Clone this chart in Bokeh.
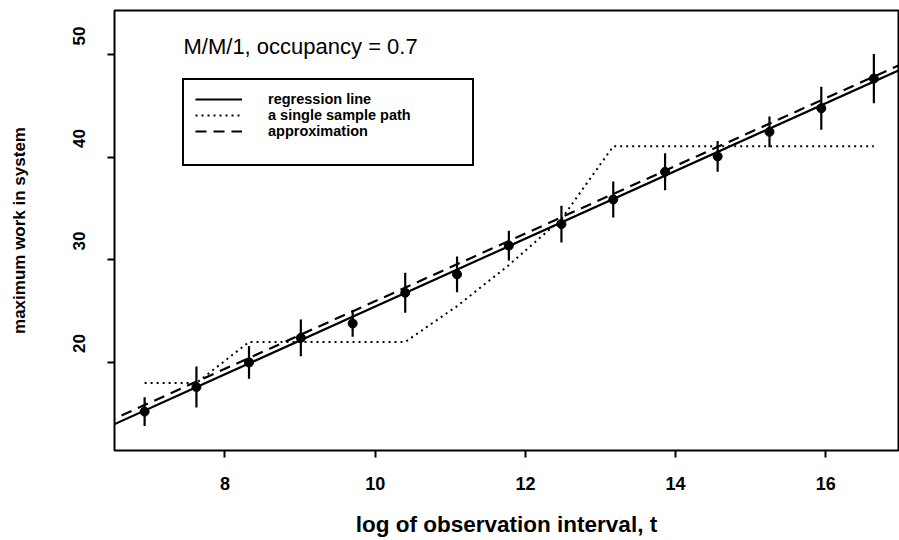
import numpy as np
from bokeh.plotting import figure
from bokeh.models import (Range1d, FixedTicker, Label, Legend, LegendItem, ColumnDataSource,
                          LinearAxis)
from bokeh.embed import file_html
from bokeh.resources import INLINE

# ---- data ----
x_log = [6.93, 7.62, 8.32, 9.01, 9.70, 10.40, 11.09, 11.78, 12.48, 13.17, 13.86, 14.56, 15.25, 15.94, 16.64]
y_mean = [15.2, 17.6, 20.0, 22.4, 23.8, 26.8, 28.6, 31.4, 33.5, 35.9, 38.6, 40.1, 42.5, 44.8, 47.7]
y_err = [1.4, 2.0, 1.6, 1.8, 1.3, 1.95, 1.75, 1.45, 1.8, 1.75, 1.8, 1.5, 1.5, 2.1, 2.4]
path_y = [18.0, 18.0, 22.0, 22.0, 22.0, 22.0, 25.5, 29.5, 34.0, 41.1, 41.1, 41.1, 41.1, 41.1, 41.1]
reg_intercept, reg_slope = -7.6, 3.306
approx_intercept, approx_slope = -7.02, 3.30
x_ticks = [8, 10, 12, 14, 16]
y_ticks = [20, 30, 40, 50]
title_text = "M/M/1, occupancy = 0.7"
legend_labels = ["regression line", "a single sample path", "approximation"]
xlabel_text = "log of observation interval, t"
ylabel_text = "maximum work in system"

FONT = "Liberation Sans"

x0, x1 = 6.529, 16.968
y0, y1 = 11.41, 54.34
label_shift = 1.85  # y tick labels sit a little above their ticks in the reference

p = figure(width=899, height=540, output_backend="svg", toolbar_location=None,
           x_range=Range1d(x0, x1), y_range=Range1d(y0, y1),
           min_border_left=114, min_border_right=1, min_border_top=10, min_border_bottom=90)
p.background_fill_color = "white"
p.border_fill_color = "white"
p.outline_line_color = "black"
p.outline_line_width = 2
p.outline_line_alpha = 1.0
p.xgrid.visible = False
p.ygrid.visible = False
p.extra_y_ranges = {"lab": Range1d(y0 - label_shift, y1 - label_shift)}

# axes
p.xaxis.ticker = FixedTicker(ticks=x_ticks)
p.yaxis.ticker = FixedTicker(ticks=y_ticks)
for ax in (p.xaxis, p.yaxis):
    ax.axis_line_color = None
    ax.major_tick_line_color = "black"
    ax.major_tick_line_width = 2
    ax.major_tick_in = 0
    ax.major_tick_out = 7
    ax.minor_tick_line_color = None
p.xaxis.major_label_text_font = FONT
p.xaxis.major_label_text_font_size = "18px"
p.xaxis.major_label_text_font_style = "bold"
p.xaxis.major_label_text_color = "black"
p.xaxis.major_label_standoff = 19
p.xaxis.axis_label = xlabel_text
p.xaxis.axis_label_text_font = FONT
p.xaxis.axis_label_text_font_size = "22.5px"
p.xaxis.axis_label_text_font_style = "bold"
p.xaxis.axis_label_text_color = "black"
p.xaxis.axis_label_standoff = 19
# tick marks only on the inner left axis; its labels are drawn by the shifted axis below
p.yaxis.major_label_text_font_size = "1px"
p.yaxis.major_label_text_color = None
p.yaxis.major_label_standoff = 0

ylab_axis = LinearAxis(y_range_name="lab", ticker=FixedTicker(ticks=y_ticks),
                       axis_line_color=None, major_tick_line_color=None,
                       minor_tick_line_color=None, major_tick_in=0, major_tick_out=0,
                       major_label_orientation="vertical", major_label_standoff=22,
                       major_label_text_font=FONT, major_label_text_font_size="17px",
                       major_label_text_font_style="bold", major_label_text_color="black",
                       axis_label=ylabel_text, axis_label_standoff=42,
                       axis_label_text_font=FONT, axis_label_text_font_size="17px",
                       axis_label_text_font_style="bold", axis_label_text_color="black")
p.add_layout(ylab_axis, "left")

# lines
xs_line = np.array([x0 - 1.0, x1 + 1.0])
r_reg = p.line(xs_line, reg_intercept + reg_slope * xs_line, line_color="black", line_width=2.2)
r_path = p.line(x_log, path_y, line_color="black", line_width=2, line_dash="2 4")
r_app = p.line(xs_line, approx_intercept + approx_slope * xs_line, line_color="black",
               line_width=2.2, line_dash="11 7")

# error bars and points
src = ColumnDataSource(dict(x=x_log, y=y_mean,
                            lo=[m - e for m, e in zip(y_mean, y_err)],
                            hi=[m + e for m, e in zip(y_mean, y_err)]))
p.segment(x0="x", y0="lo", x1="x", y1="hi", source=src, line_color="black", line_width=2.2)
p.scatter(x="x", y="y", source=src, size=9, marker="circle", color="black")

# blank renderer for legend spacing
r_blank = p.line([x_log[0]], [y_mean[0]], line_alpha=0)

legend = Legend(items=[LegendItem(label=legend_labels[0], renderers=[r_reg]),
                       LegendItem(label=legend_labels[1], renderers=[r_path]),
                       LegendItem(label=legend_labels[2], renderers=[r_app]),
                       LegendItem(label=" ", renderers=[r_blank])],
                location="top_left", margin=68, padding=11, spacing=0,
                label_height=14, glyph_height=14, glyph_width=47, label_standoff=26,
                label_text_font=FONT, label_text_font_size="14.5px", label_text_font_style="bold",
                label_text_line_height=1.0,
                label_text_color="black", label_text_baseline="middle",
                border_line_color="black", border_line_width=2, border_line_alpha=1.0,
                background_fill_color="white", background_fill_alpha=1.0,
                label_width=193)
p.add_layout(legend, "center")

# title inside the frame
p.add_layout(Label(x=x0, y=y1, x_offset=69, y_offset=-36, text=title_text,
                   text_font=FONT, text_font_size="22px", text_color="black",
                   text_align="left", text_baseline="alphabetic"))

open("out.html", "w").write(file_html(p, INLINE))
